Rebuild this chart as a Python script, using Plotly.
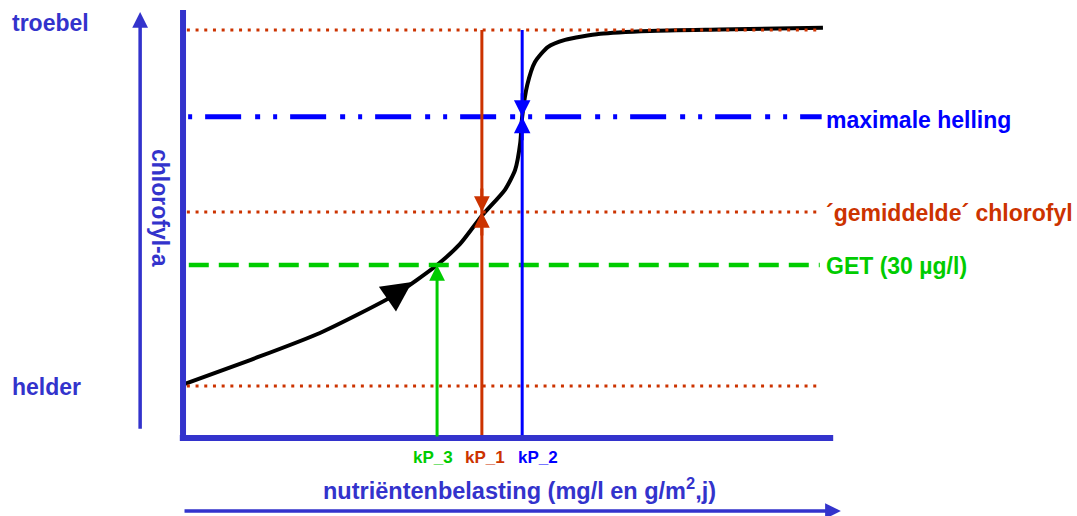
import plotly.graph_objects as go

# schematic units: nutrient load 0..100, chlorophyll 0 (helder) .. 100 (troebel)
curve_load = [0.3, 10.5, 21.4, 33.1, 39.7, 43.3, 46.7, 50.3, 51.9, 52.7, 53.0,
              53.8, 55.0, 57.0, 59.7, 65.2, 73.0, 83.9, 100.0]
curve_chl = [0.6, 7.3, 14.9, 25.6, 34.0, 39.9, 47.8, 55.1, 60.7, 68.3, 75.6,
             84.6, 91.0, 95.2, 97.2, 98.9, 99.7, 100.1, 100.6]

level_troebel = 100.0
level_helling = 75.6
level_gemiddeld = 48.9
level_get = 34.0
level_helder = 0.0

kp_names = ["kP_3", "kP_1", "kP_2"]
kp_load = [39.7, 46.7, 53.0]

arrow_point = (35.8, 29.2)  # arrow on the curve

x_axis_level = -14.6
x_axis_end = 101.0
y_axis_top = 105.6

AXIS_BLUE = "#3333CC"
RED = "#CC3300"
BLUE = "#0000FF"
GREEN = "#00CC00"
FONT = "Liberation Sans, Arial, sans-serif"

fig = go.Figure()

fig.add_trace(go.Scatter(
    x=curve_load, y=curve_chl, mode="lines",
    line=dict(color="black", width=4, shape="spline", smoothing=0.6),
))

line_start, line_end = 0.6, 99.8
for level in [level_troebel, level_gemiddeld, level_helder]:
    fig.add_trace(go.Scatter(
        x=[line_start, line_end], y=[level, level], mode="lines",
        line=dict(color=RED, width=3, dash="3px,5.7px"),
    ))
fig.add_trace(go.Scatter(
    x=[0.9, 99.5], y=[level_get, level_get], mode="lines",
    line=dict(color=GREEN, width=4.5, dash="20px,10px"),
))
fig.add_trace(go.Scatter(
    x=[0.8, line_end], y=[level_helling, level_helling], mode="lines",
    line=dict(color=BLUE, width=5, dash="4px,13px,36px,14px,5px,13px"),
))

# vertical kP lines
fig.add_trace(go.Scatter(
    x=[kp_load[1], kp_load[1]], y=[x_axis_level, level_troebel], mode="lines",
    line=dict(color=RED, width=3),
))
fig.add_trace(go.Scatter(
    x=[kp_load[2], kp_load[2]], y=[x_axis_level, level_troebel], mode="lines",
    line=dict(color=BLUE, width=3),
))

# axis frame
fig.add_trace(go.Scatter(
    x=[0, 0], y=[x_axis_level - 0.5, y_axis_top], mode="lines",
    line=dict(color=AXIS_BLUE, width=6),
))
fig.add_trace(go.Scatter(
    x=[-0.5, x_axis_end + 0.6], y=[x_axis_level, x_axis_level], mode="lines",
    line=dict(color=AXIS_BLUE, width=6),
))

anns = []


def arrow(x, y, ax, ay, color, width, size, axref="pixel"):
    d = dict(x=x, y=y, ax=ax, ay=ay, text="", showarrow=True, arrowhead=2,
             arrowcolor=color, arrowwidth=width, arrowsize=size, standoff=0)
    if axref != "pixel":
        d.update(axref="x", ayref="y")
    anns.append(d)


# green arrow up to GET
arrow(kp_load[0], level_get, kp_load[0], x_axis_level, GREEN, 3, 1.05, axref="data")
# hourglass marks
arrow(kp_load[1], level_gemiddeld, 0, -25, RED, 3, 1.05)
arrow(kp_load[1], level_gemiddeld, 0, 25, RED, 3, 1.05)
arrow(kp_load[2], level_helling, 0, -25, BLUE, 3, 1.1)
arrow(kp_load[2], level_helling, 0, 25, BLUE, 3, 1.1)
# arrow on curve
arrow(arrow_point[0], arrow_point[1], -26, 18, "black", 4, 1.5)
# outer axis arrows
arrow(-6.7, 105.0, -6.7, -12.4, AXIS_BLUE, 3.5, 0.9, axref="data")
arrow(102.8, -35.1, 0.0, -35.1, AXIS_BLUE, 3.5, 0.9, axref="data")


def label(x, y, text, color, size, xanchor="left", xshift=0, angle=0):
    anns.append(dict(x=x, y=y, text=text, showarrow=False, xanchor=xanchor,
                     yanchor="middle", xshift=xshift, textangle=angle,
                     font=dict(family=FONT, size=size, color=color, weight="bold")))


label_x = 100.2
label(-27.0, level_troebel + 2.0, "troebel", AXIS_BLUE, 23)
label(-27.0, level_helder - 0.3, "helder", AXIS_BLUE, 23)
label(-3.6, 50.0, "chlorofyl-a", AXIS_BLUE, 23, xanchor="center", angle=90)
label(label_x, level_helling - 0.8, "maximale helling", BLUE, 23)
label(label_x, level_gemiddeld - 0.3, "´gemiddelde´ chlorofyl", RED, 23)
label(label_x, level_get - 0.3, "GET (30 µg/l)", GREEN, 23)
kp_colors = [GREEN, RED, BLUE]
kp_shift = [-4, 3, 16]
for name, load, color, shift in zip(kp_names, kp_load, kp_colors, kp_shift):
    label(load, x_axis_level - 5.5, name, color, 17, xanchor="center", xshift=shift)
label(52.6, -28.9, "nutriëntenbelasting (mg/l en g/m<sup>2</sup>,j)", AXIS_BLUE, 23.5,
      xanchor="center")

fig.update_layout(
    width=1077, height=516,
    margin=dict(l=0, r=0, t=0, b=0),
    paper_bgcolor="white", plot_bgcolor="white",
    showlegend=False,
    xaxis=dict(range=[-28.6, 139.7], visible=False, fixedrange=True),
    yaxis=dict(range=[-36.5, 108.4], visible=False, fixedrange=True),
    annotations=anns,
)

fig.write_html("out.html", config={"displayModeBar": False},
               post_script="document.body.style.margin='0';")
